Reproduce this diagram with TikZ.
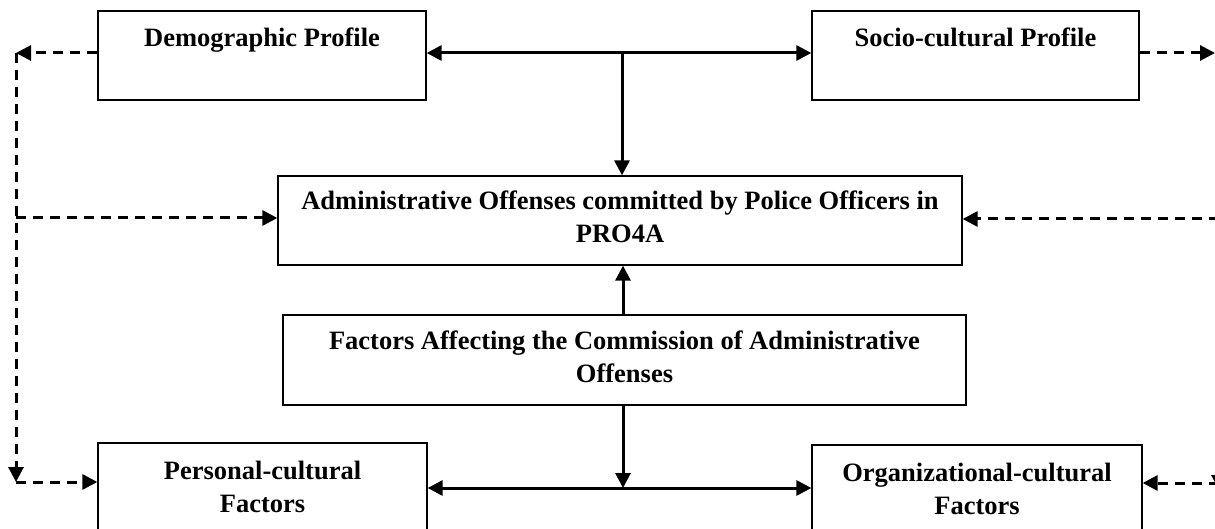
\documentclass[tikz,border=0pt]{standalone}
\usepackage{fontspec}
\setmainfont{Liberation Serif}
\usetikzlibrary{arrows.meta}
\begin{document}
\begin{tikzpicture}[x=1pt,y=-1pt,
  >={Triangle[length=15pt,width=15pt]},
  box/.style={draw, line width=1.3pt, minimum height=89pt, inner sep=0pt},
  lbl/.style={anchor=base, inner sep=0pt, font=\bfseries\fontsize{26.5}{33}\selectfont},
  conn/.style={line width=3pt},
  dconn/.style={line width=3pt, dash pattern=on 10pt off 7pt}]
\useasboundingbox (0,0) rectangle (1215,529);

% boxes
\node[box, minimum width=328pt] (demo) at (262,55.5) {};
\node[box, minimum width=327pt] (socio) at (975.5,55.5) {};
\node[box, minimum width=684pt] (admin) at (620,220.5) {};
\node[box, minimum width=683pt, minimum height=90pt] (fact) at (624.5,360) {};
\node[box, minimum width=329pt] (pers) at (262.5,487.5) {};
\node[box, minimum width=330pt] (org) at (977,489.5) {};

% labels
\node[lbl] (demoT) at ([yshift=-36pt]demo.north) {\parbox[t]{320pt}{\centering Demographic Profile}};
\node[lbl] (socioT) at ([yshift=-36pt]socio.north) {\parbox[t]{320pt}{\centering Socio-cultural Profile}};
\node[lbl] (adminT) at ([yshift=-34pt]admin.north) {\parbox[t]{680pt}{\centering Administrative Offenses committed by Police Officers in\\PRO4A}};
\node[lbl] (factT) at ([yshift=-35pt]fact.north) {\parbox[t]{680pt}{\centering Factors Affecting the Commission of Administrative\\Offenses}};
\node[lbl] (persT) at ([yshift=-37pt]pers.north) {\parbox[t]{325pt}{\centering Personal-cultural\\Factors}};
\node[lbl] (orgT) at ([yshift=-37pt]org.north) {\parbox[t]{325pt}{\centering Organizational-cultural\\Factors}};

% solid connectors
\coordinate (tj) at (622,53);
\draw[conn,<->] (demo.east |- tj) -- (socio.west |- tj);
\draw[conn,->] (tj) -- (tj |- admin.north);
\coordinate (mj) at (623,290);
\draw[conn,->] (mj |- fact.north) -- (mj |- admin.south);
\coordinate (bj) at (623,488);
\draw[conn,->] (bj |- fact.south) -- (bj);
\draw[conn,<->] (pers.east |- bj) -- (org.west |- bj);

% left dashed connectors
\coordinate (L1) at (16,53);
\coordinate (L2) at (16,218);
\coordinate (L3) at (16,482);
\draw[dconn,->] (demo.west |- L1) -- (L1);
\draw[dconn,->] (L1) -- (L3);
\draw[dconn,->] (L2) -- (admin.west |- L2);
\draw[dconn,->] (L3) -- (pers.west |- L3);

% right dashed connectors
\coordinate (R1) at (1215,53);
\coordinate (Rt) at (1219,53);
\coordinate (Rb) at (1219,490);
\coordinate (R2) at (1219,219);
\coordinate (R3) at (1219,483);
\draw[dconn,->] (socio.east |- R1) -- (R1);
\draw[dconn,->] (Rt) -- (Rb);
\draw[dconn,->] (R2) -- (admin.east |- R2);
\draw[dconn,->] (R3) -- (org.east |- R3);
\end{tikzpicture}
\end{document}
